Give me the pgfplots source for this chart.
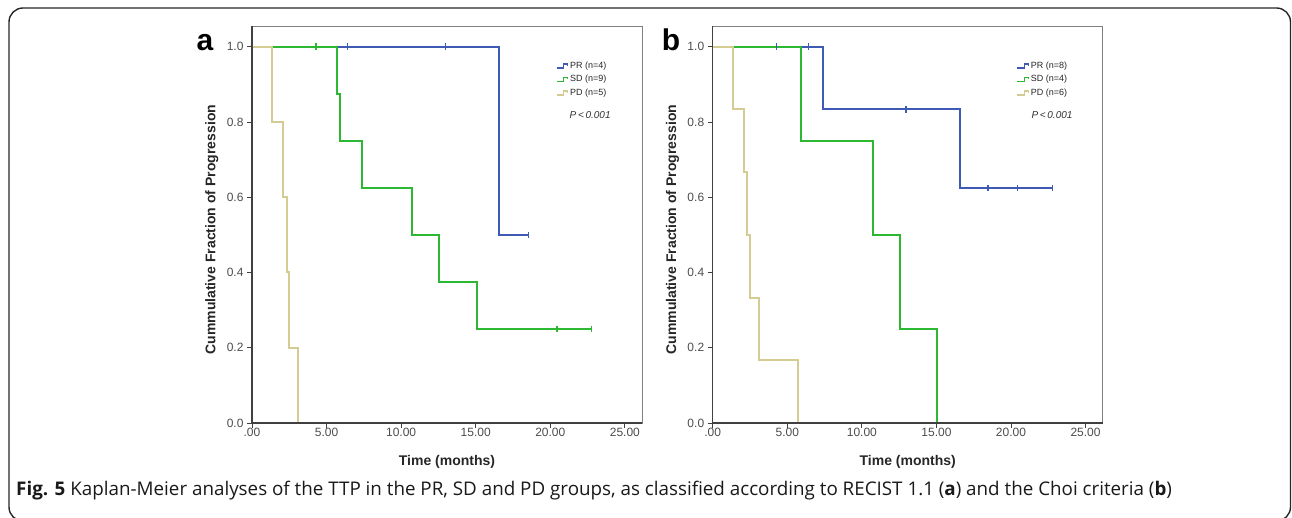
\documentclass[border=0pt]{standalone}
\usepackage{fontspec}
\setmainfont{Open Sans}
\newfontfamily\arial{Liberation Sans}
\usepackage{pgfplots}
\pgfplotsset{compat=1.18}

\definecolor{prblue}{RGB}{62,90,180}
\definecolor{sdgreen}{RGB}{44,184,50}
\definecolor{pdtan}{RGB}{212,204,146}
\definecolor{axgray}{RGB}{64,64,64}

\pgfplotsset{
  km/.style={
    scale only axis, width=390pt, height=397pt,
    xmin=0, xmax=26.15, ymin=0, ymax=1.055,
    const plot,
    clip=false,
    axis line style={black!50, line width=0.8pt},
    tick pos=left, tick align=outside, major tick length=5pt,
    xtick={0,5,10,15,20,25}, xticklabels={.00,5.00,10.00,15.00,20.00,25.00},
    ytick={0,0.2,0.4,0.6,0.8,1.0}, yticklabels={0.0,0.2,0.4,0.6,0.8,1.0},
    tick style={axgray, line width=0.8pt},
    ticklabel style={font=\arial\fontsize{12}{14}\selectfont, text=black!70},
    xticklabel style={yshift=3pt},
    xlabel={Time (months)}, ylabel={Cummulative Fraction of Progression},
    every axis x label/.style={at={(axis description cs:0.5,0)}, anchor=center, yshift=-38.7pt,
      font=\arial\bfseries\fontsize{14}{16}\selectfont, text=black!85},
    every axis y label/.style={at={(axis description cs:-0.103,0.487)}, anchor=center, rotate=90,
      font=\arial\bfseries\fontsize{14}{16}\selectfont, text=black!85},
    legend style={at={(axis description cs:0.779,0.915)}, anchor=north west,
      draw=none, fill=none, inner sep=0pt, row sep=1.5pt,
      font=\arial\fontsize{9}{10}\selectfont, text=black!85},
    legend cell align=left,
    legend image code/.code={\draw[##1, line width=1.1pt] (0pt,-2pt) -- (7pt,-2pt) -- (7pt,2pt) -- (11pt,2pt) -- (11pt,0pt);},
    every axis plot/.append style={line width=2pt},
  },
  censor/.style={only marks, mark=|, mark size=3.2pt, mark options={line width=1.4pt}, forget plot},
}

\begin{document}
\begin{tikzpicture}
\useasboundingbox (0pt,0pt) rectangle (1292pt,517pt);
\draw[line width=1.4pt, rounded corners=14pt, black!85] (9pt,509pt) rectangle (1290.5pt,-4pt);

\node[anchor=base, inner sep=0, font=\arial\bfseries\fontsize{30}{30}\selectfont] at (205pt,466pt) {a};
\node[anchor=base, inner sep=0, font=\arial\bfseries\fontsize{30}{30}\selectfont] at (671pt,466pt) {b};

% panel a: RECIST 1.1
\begin{axis}[km, at={(252pt,94pt)}, anchor=south west]
\addplot[prblue] coordinates {(0,1) (16.58,0.5) (18.52,0.5)};
\addplot[sdgreen] coordinates {(0,1) (5.67,0.875) (5.87,0.75) (7.39,0.625) (10.74,0.5) (12.55,0.375) (15.1,0.25) (22.77,0.25)};
\addplot[pdtan] coordinates {(0,1) (1.37,0.8) (2.05,0.6) (2.32,0.4) (2.46,0.2) (3.06,0)};
\addplot[prblue, censor] coordinates {(6.39,1) (12.98,1) (18.52,0.5)};
\addplot[sdgreen, censor] coordinates {(4.29,1) (20.46,0.25) (22.77,0.25)};
\legend{PR (n=4), SD (n=9), PD (n=5)}
\draw[axgray, line width=1.3pt] (rel axis cs:0,1) -- (rel axis cs:0,0) -- (rel axis cs:1,0);
\node[font=\arial\itshape\fontsize{10}{12}\selectfont, text=black!80] at (rel axis cs:0.867,0.776) {P\,<\,0.001};
\end{axis}

% panel b: Choi criteria
\begin{axis}[km, at={(712.7pt,94pt)}, anchor=south west]
\addplot[prblue] coordinates {(0,1) (7.38,0.8333) (16.55,0.625) (22.79,0.625)};
\addplot[sdgreen] coordinates {(0,1) (5.9,0.75) (10.78,0.5) (12.59,0.25) (15.05,0)};
\addplot[pdtan] coordinates {(0,1) (1.38,0.8333) (2.12,0.6667) (2.30,0.5) (2.48,0.3333) (3.09,0.1667) (5.7,0)};
\addplot[prblue, censor] coordinates {(4.29,1) (6.42,1) (12.97,0.8333) (18.46,0.625) (20.44,0.625) (22.79,0.625)};
\legend{PR (n=8), SD (n=4), PD (n=6)}
\draw[axgray, line width=1.3pt] (rel axis cs:0,1) -- (rel axis cs:0,0) -- (rel axis cs:1,0);
\node[font=\arial\itshape\fontsize{10}{12}\selectfont, text=black!80] at (rel axis cs:0.870,0.776) {P\,<\,0.001};
\end{axis}

\node[anchor=base west, inner sep=0, font=\fontsize{18.8}{22}\selectfont, text=black!90] at (16pt,22pt)
  {\textbf{Fig. 5} Kaplan-Meier analyses of the TTP in the PR, SD and PD groups, as classified according to RECIST 1.1 (\textbf{a}) and the Choi criteria (\textbf{b})};
\end{tikzpicture}
\end{document}
